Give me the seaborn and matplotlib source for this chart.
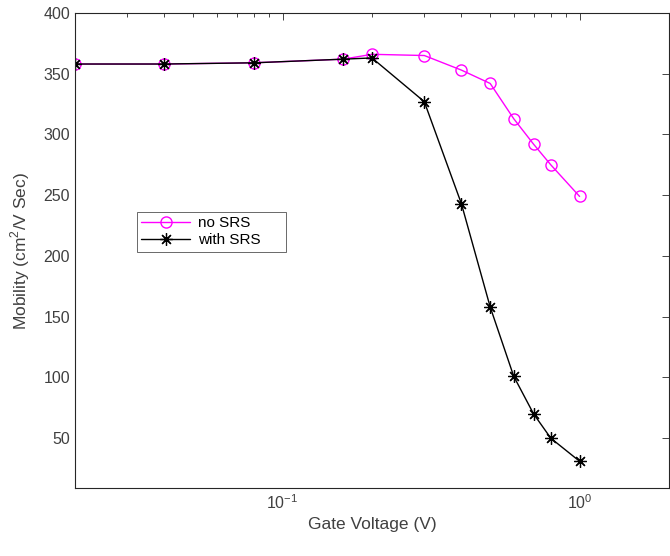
import numpy as np
import pandas as pd
import matplotlib
matplotlib.use("Agg")
import matplotlib.pyplot as plt
import seaborn as sns
from matplotlib.ticker import LogLocator, NullFormatter

# gate voltage points (V)
gate_v = [0.02, 0.04, 0.08, 0.16, 0.2, 0.3, 0.4, 0.5, 0.6, 0.7, 0.8, 1.0]
# mobility values
mob_no_srs = [358, 358, 359, 362, 366, 365, 353, 342, 313, 292, 275, 249]
mob_with_srs = [358, 358, 359, 362, 363, 327, 243, 158, 101, 70, 50, 31]

sns.set_style("white")
plt.rcParams['font.family'] = ['Liberation Sans', 'DejaVu Sans']
plt.rcParams['mathtext.fontset'] = 'custom'
plt.rcParams['mathtext.rm'] = 'Liberation Sans'
plt.rcParams['axes.unicode_minus'] = False

txt = '#404040'
fig = plt.figure(figsize=(6.7, 5.56), dpi=100)
ax = fig.add_axes([75 / 670, (556 - 488) / 556, 594 / 670, 475 / 556])

sns.lineplot(x=gate_v, y=mob_no_srs, ax=ax, color='#ff00ff', lw=1.0,
             marker='o', markersize=8, markerfacecolor='none',
             markeredgecolor='#ff00ff', markeredgewidth=1.0, label='no SRS')
sns.lineplot(x=gate_v, y=mob_with_srs, ax=ax, color='black', lw=1.0,
             marker=(8, 2, 0), markersize=9, markeredgecolor='black',
             markeredgewidth=0.9, label='with SRS')

ax.set_xscale('log')
ax.set_xlim(0.02, 2)
ax.set_ylim(9, 400)
ax.set_yticks(range(50, 401, 50))
ax.xaxis.set_major_locator(LogLocator(base=10))
ax.xaxis.set_minor_locator(LogLocator(base=10, subs=np.arange(2, 10)))
ax.xaxis.set_minor_formatter(NullFormatter())

for s in ax.spines.values():
    s.set_color('#262626')
    s.set_linewidth(0.8)
ax.tick_params(which='both', direction='in', top=True, right=True,
               colors='#262626', labelcolor=txt, labelsize=11.5, width=0.6)
ax.tick_params(which='major', length=5)
ax.tick_params(which='minor', length=3)

ax.set_xlabel('Gate Voltage (V)', fontsize=12.5, color=txt)
ax.set_ylabel('Mobility (cm$^2$/V Sec)', fontsize=12.5, color=txt, labelpad=8)

leg = ax.legend(loc='lower left', bbox_to_anchor=(0.104, 0.497, 0.251, 0.113),
                mode='expand', fontsize=11, fancybox=False, frameon=True,
                borderpad=0.3, handlelength=3.2, labelspacing=0.2,
                handletextpad=0.5, borderaxespad=0)
leg.get_frame().set_edgecolor('#262626')
leg.get_frame().set_linewidth(0.6)
for t in leg.get_texts():
    t.set_color('black')

fig.savefig('out.png', dpi=100)
